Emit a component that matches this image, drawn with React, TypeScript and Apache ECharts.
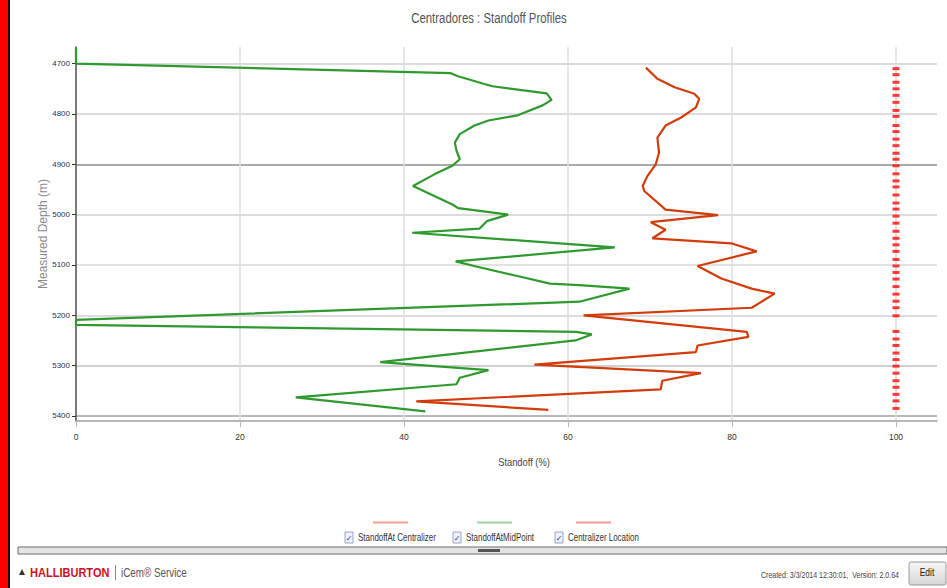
import React, { useEffect, useRef } from "react";
import * as echarts from "echarts";

// ---- data ----
const midDepths = [4668, 4700, 4719, 4725, 4740, 4745, 4759, 4772, 4783, 4803, 4813, 4823, 4840, 4857, 4873, 4890, 4903, 4920, 4943, 4953, 4980, 4987, 4993, 5000, 5013, 5028, 5036, 5065, 5093, 5103, 5123, 5137, 5140, 5147, 5173, 5209, 5219, 5233, 5238, 5250, 5293, 5309, 5324, 5337, 5363, 5391];
const midStandoff = [0, 0, 45.7, 46.6, 49.7, 50.8, 57.4, 58.0, 56.9, 53.8, 50.3, 48.6, 46.8, 46.2, 46.4, 46.8, 45.9, 43.7, 41.1, 42.4, 45.9, 46.6, 49.5, 52.7, 50.1, 49.2, 41.0, 65.7, 46.3, 48.8, 54.1, 57.8, 61.4, 67.5, 61.4, 0, 0, 61.0, 62.9, 60.9, 37.1, 50.3, 46.8, 46.4, 26.8, 42.6];

const centDepths = [4708, 4730, 4747, 4760, 4770, 4787, 4807, 4823, 4847, 4877, 4900, 4923, 4943, 4953, 4990, 5001, 5015, 5030, 5047, 5057, 5073, 5102, 5127, 5147, 5157, 5185, 5200, 5233, 5243, 5260, 5273, 5298, 5315, 5330, 5347, 5371, 5388];
const centStandoff = [69.5, 70.9, 73.0, 75.4, 76.0, 75.6, 73.8, 71.9, 70.9, 71.1, 70.7, 69.7, 69.1, 69.3, 71.9, 78.3, 70.1, 71.9, 70.3, 79.9, 83.0, 75.8, 78.7, 82.4, 85.2, 82.4, 61.9, 81.8, 82.0, 75.8, 75.6, 55.9, 76.2, 71.5, 71.3, 41.5, 57.6];

const centralizerDepths = [4710, 4722, 4737, 4750, 4763, 4777, 4793, 4805, 4823, 4835, 4850, 4863, 4878, 4890, 4903, 4919, 4933, 4945, 4961, 4977, 4989, 5003, 5017, 5033, 5047, 5060, 5073, 5089, 5102, 5115, 5128, 5143, 5158, 5172, 5185, 5201, 5232, 5247, 5260, 5275, 5288, 5301, 5315, 5330, 5343, 5357, 5370, 5385];
const centralizerPosition = 100;

const xTicks = [0, 20, 40, 60, 80, 100];
const yTicks = [4700, 4800, 4900, 5000, 5100, 5200, 5300, 5400];

const legendNames = ["StandoffAt Centralizer", "StandoffAtMidPoint", "Centralizer Location"];

const FONT = "'Liberation Sans', Arial, sans-serif";

export default function App() {
  const ref = useRef<HTMLDivElement>(null);

  useEffect(() => {
    if (!ref.current) return;
    const chart = echarts.init(ref.current, undefined, { renderer: "svg" });

    const midData = midDepths.map((d, i) => [midStandoff[i], d]);
    const centData = centDepths.map((d, i) => [centStandoff[i], d]);
    const locData = centralizerDepths.map((d) => [centralizerPosition, d]);

    const legendX = [345, 453, 555];
    const legendLineX = [373, 477, 576];
    const legendColors = ["#f2a28e", "#9fd49f", "#f49a9a"];

    const legendGraphics: any[] = [];
    legendNames.forEach((name, i) => {
      legendGraphics.push({
        type: "line",
        shape: { x1: legendLineX[i], y1: 522.5, x2: legendLineX[i] + 35, y2: 522.5 },
        style: { stroke: legendColors[i], lineWidth: 2 },
      });
      legendGraphics.push({
        type: "rect",
        shape: { x: legendX[i], y: 532, width: 8, height: 11 },
        style: { fill: "#eef0fa", stroke: "#9aa3c8", lineWidth: 1 },
      });
      legendGraphics.push({
        type: "text",
        x: legendX[i] + 4,
        y: 538,
        style: { text: "✓", fill: "#2a3a9a", fontSize: 8, fontFamily: "DejaVu Sans", textAlign: "center", textVerticalAlign: "middle" },
      });
      legendGraphics.push({
        type: "text",
        x: legendX[i] + 13,
        y: 538,
        scaleX: 0.76,
        style: { text: name, fill: "#333", fontSize: 10.5, fontFamily: FONT, textAlign: "left", textVerticalAlign: "middle" },
      });
    });

    chart.setOption({
      animation: false,
      backgroundColor: "#ffffff",
      grid: { left: 76, top: 47, right: 10, bottom: 167, containLabel: false },
      xAxis: {
        type: "value",
        min: 0,
        max: 105,
        axisLine: { show: true, lineStyle: { color: "#a0a0a0", width: 1.5 } },
        axisTick: { show: true, length: 6, lineStyle: { color: "#bbbbbb" }, customValues: xTicks },
        axisLabel: { customValues: xTicks, fontSize: 8.5, color: "#333", margin: 11, fontFamily: FONT },
        splitLine: { show: true, lineStyle: { color: "#dedede", width: 1.5 } },
      },
      yAxis: {
        type: "value",
        inverse: true,
        min: 4667,
        max: 5410,
        name: "Measured Depth (m)",
        nameLocation: "middle",
        nameGap: 27,
        nameMoveOverlap: false,
        nameRotate: 90,
        nameTextStyle: { fontSize: 12, color: "#8a8a8a", fontFamily: FONT },
        axisLine: { show: true, lineStyle: { color: "#555", width: 1.5 } },
        axisTick: { show: true, length: 4, lineStyle: { color: "#333" }, customValues: yTicks },
        axisLabel: {
          customValues: yTicks,
          fontSize: 8,
          color: "#333",
          margin: 6,
          fontFamily: FONT,
          formatter: (v: number) => String(v),
        },
        splitLine: {
          show: true,
          lineStyle: {
            color: ["#dcdcdc", "#dcdcdc", "#a9a9a9", "#dcdcdc", "#e2e2e2", "#dcdcdc", "#d0d0d0", "#b8b8b8"],
            width: 2,
          },
        },
      },
      series: [
        {
          name: legendNames[0],
          type: "line",
          data: centData,
          symbol: "none",
          lineStyle: { color: "#d23c0a", width: 2.2 },
          z: 3,
        },
        {
          name: legendNames[1],
          type: "line",
          data: midData,
          symbol: "none",
          lineStyle: { color: "#2e9a2e", width: 2.2 },
          z: 4,
        },
        {
          name: legendNames[2],
          type: "scatter",
          data: locData,
          symbol: "rect",
          symbolSize: [7, 3],
          itemStyle: { color: "#ff0a0a" },
          z: 5,
        },
      ],
      graphic: [
        { type: "rect", shape: { x: 0, y: 0, width: 8, height: 588 }, style: { fill: "#ff0000" } },
        { type: "rect", shape: { x: 8, y: 0, width: 2, height: 588 }, style: { fill: "#111111" } },
        {
          type: "text",
          x: 489,
          y: 18,
          scaleX: 0.76,
          style: { text: "Centradores : Standoff Profiles", fill: "#555", fontSize: 15, fontFamily: FONT, textAlign: "center", textVerticalAlign: "middle" },
        },
        {
          type: "text",
          x: 524,
          y: 462,
          scaleX: 0.85,
          style: { text: "Standoff (%)", fill: "#444", fontSize: 11, fontFamily: FONT, textAlign: "center", textVerticalAlign: "middle" },
        },
        ...legendGraphics,
        // separator bar
        { type: "rect", shape: { x: 18, y: 547, width: 929, height: 7 }, style: { fill: "#e4e4e4", stroke: "#6a6a6a", lineWidth: 1 } },
        { type: "rect", shape: { x: 478, y: 549, width: 22, height: 3 }, style: { fill: "#555" } },
        // footer
        { type: "polygon", shape: { points: [[19, 575], [25, 575], [22, 569]] }, style: { fill: "#333" } },
        {
          type: "text",
          x: 30,
          y: 573,
          scaleX: 0.92,
          style: { text: "HALLIBURTON", fill: "#cc1122", fontSize: 12, fontWeight: "bold", fontFamily: FONT, textAlign: "left", textVerticalAlign: "middle" },
        },
        { type: "rect", shape: { x: 115, y: 565, width: 1, height: 15 }, style: { fill: "#888" } },
        {
          type: "text",
          x: 121,
          y: 573,
          scaleX: 0.82,
          style: { text: "iCem® Service", fill: "#555", fontSize: 12, fontFamily: FONT, textAlign: "left", textVerticalAlign: "middle" },
        },
        {
          type: "text",
          x: 899,
          y: 575,
          scaleX: 0.78,
          style: { text: "Created: 3/3/2014 12:30:01,  Version: 2.0.64", fill: "#444", fontSize: 9, fontFamily: FONT, textAlign: "right", textVerticalAlign: "middle" },
        },
        {
          type: "rect",
          shape: { x: 909, y: 562, width: 37, height: 23, r: 2 },
          style: {
            fill: new echarts.graphic.LinearGradient(0, 0, 0, 1, [
              { offset: 0, color: "#f6f6f6" },
              { offset: 1, color: "#d6d6d6" },
            ]),
            stroke: "#9a9a9a",
            lineWidth: 1,
          },
        },
        {
          type: "text",
          x: 927,
          y: 573,
          scaleX: 0.85,
          style: { text: "Edit", fill: "#222", fontSize: 10, fontFamily: FONT, textAlign: "center", textVerticalAlign: "middle" },
        },
      ],
    });

    return () => chart.dispose();
  }, []);

  return (
    <div
      ref={ref}
      style={{ position: "absolute", left: 0, top: 0, width: 947, height: 588, background: "#fff" }}
    />
  );
}
